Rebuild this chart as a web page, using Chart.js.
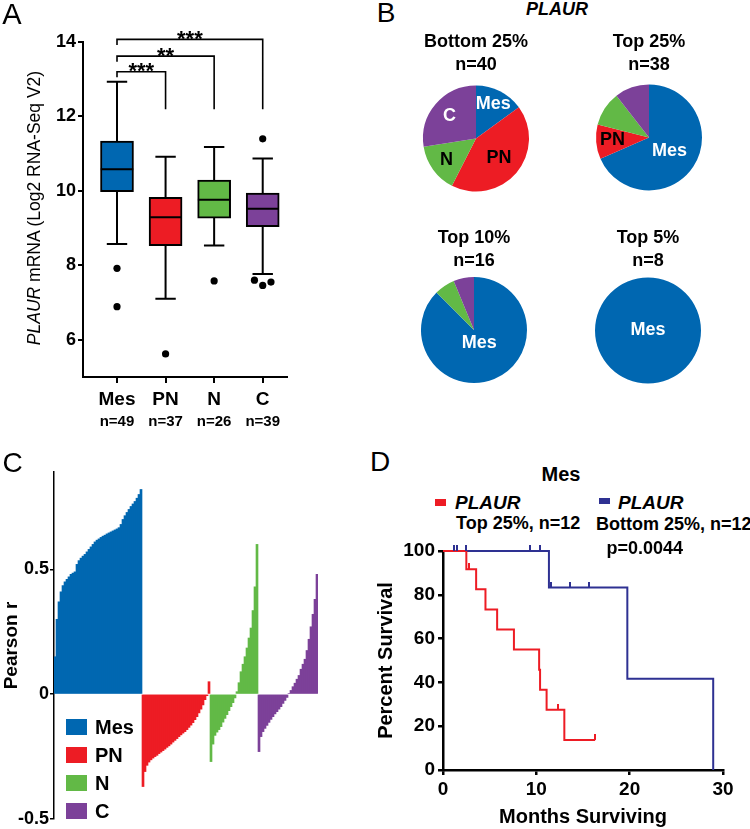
<!DOCTYPE html>
<html><head><meta charset="utf-8">
<script src="https://cdn.jsdelivr.net/npm/chart.js@4.4.1/dist/chart.umd.min.js"></script>
<style>
html,body{margin:0;padding:0;background:#fff;}
body{width:750px;height:829px;position:relative;overflow:hidden;font-family:"Liberation Sans",Arial,sans-serif;color:#000;}
canvas{position:absolute;}
.t{position:absolute;line-height:1;white-space:nowrap;}
.c{transform:translate(-50%,-50%);}
.l{transform:translateY(-50%);}
.b{font-weight:bold;}
.sq{position:absolute;}
</style></head><body>
<canvas id="cA" width="300" height="430" style="left:0;top:0"></canvas>
<canvas id="cP1" width="150" height="170" style="left:401px;top:31px"></canvas>
<canvas id="cP2" width="150" height="168" style="left:574px;top:31px"></canvas>
<canvas id="cP3" width="150" height="161" style="left:399px;top:227px"></canvas>
<canvas id="cP4" width="150" height="162" style="left:573px;top:227px"></canvas>
<canvas id="cC" width="340" height="389" style="left:0;top:440px"></canvas>
<canvas id="cD" width="380" height="289" style="left:370px;top:540px"></canvas>

<div class="t c" style="left:12px;top:14px;font-size:29px">A</div>
<div class="t c" style="left:386px;top:13px;font-size:28px">B</div>
<div class="t c" style="left:12.5px;top:463px;font-size:28px">C</div>
<div class="t c" style="left:380px;top:462px;font-size:28px">D</div>
<div class="t c" style="left:35px;top:208px;font-size:17.5px;transform:translate(-50%,-50%) rotate(-90deg)"><i>PLAUR</i> mRNA (Log2 RNA-Seq V2)</div>
<div class="t c b" style="left:557px;top:9px;font-size:18px;font-style:italic">PLAUR</div>
<div id="legC"></div>
<div class="t c b" style="left:561px;top:474px;font-size:20px">Mes</div>
<div class="sq" style="left:435px;top:499px;width:11px;height:7px;background:#ED1C24"></div>
<div class="t l b" style="left:455px;top:502px;font-size:19px;font-style:italic">PLAUR</div>
<div class="t l b" style="left:456px;top:522.5px;font-size:18px">Top 25%, n=12</div>
<div class="sq" style="left:599px;top:498px;width:11px;height:6px;background:#2E3192"></div>
<div class="t l b" style="left:618px;top:502px;font-size:19px;font-style:italic">PLAUR</div>
<div class="t l b" style="left:596px;top:523.5px;font-size:18px">Bottom 25%, n=12</div>
<div class="t l b" style="left:606.5px;top:547.5px;font-size:18px">p=0.0044</div>

<script>
// ---------- DATA ----------
// Panel A: box plot
const boxCats = ['Mes','PN','N','C'];
const boxN = ['n=49','n=37','n=26','n=39'];
const boxMin = [8.57, 7.10, 8.53, 7.77];
const boxQ1  = [9.98, 8.53, 9.27, 9.04];
const boxMed = [10.58, 9.29, 9.76, 9.52];
const boxQ3  = [11.34, 9.83, 10.29, 9.94];
const boxMax = [12.93, 10.92, 11.18, 10.87];
const outlierX = [1, 1, 2, 3, 4, 3.83, 4, 4.17];
const outlierY = [7.92, 6.89, 5.62, 7.58, 11.40, 7.60, 7.46, 7.55];
const yTicksA = [6, 8, 10, 12, 14];
const sigFrom = [1, 1, 1];
const sigTo = [4, 3, 2];
const sigLevel = [14.07, 13.62, 13.20];
const sigLeftEnd = [13.92, 13.47, 13.05];
const sigRightEnd = [12.19, 12.19, 12.19];
const sigText = ['***', '**', '***'];

// Panel B: pies
const pieGroups = ['Mes','PN','N','C'];
const pieTitles = ['Bottom 25%','Top 25%','Top 10%','Top 5%'];
const pieN = ['n=40','n=38','n=16','n=8'];
const pieBottom25 = [6, 17, 6, 11];
const pieTop25 = [26, 4, 4, 4];
const pieTop10 = [14, 0, 1, 1];
const pieTop5 = [8, 0, 0, 0];

// Panel C: sorted Pearson r
const corrMes = [0.15,0.30,0.37,0.41,0.435,0.45,0.46,0.47,0.48,0.485,0.49,0.52,0.535,0.545,0.553,0.56,0.57,0.58,0.59,0.60,0.61,0.617,0.622,0.628,0.633,0.637,0.642,0.646,0.65,0.654,0.658,0.662,0.667,0.68,0.70,0.715,0.728,0.74,0.752,0.762,0.772,0.785,0.80,0.82];
const corrPN = [-0.37,-0.31,-0.285,-0.272,-0.263,-0.256,-0.25,-0.245,-0.238,-0.232,-0.226,-0.22,-0.213,-0.207,-0.2,-0.192,-0.185,-0.178,-0.17,-0.163,-0.156,-0.15,-0.142,-0.133,-0.124,-0.114,-0.102,-0.09,-0.075,-0.06,-0.043,-0.022,-0.006,0.05];
const corrN = [-0.27,-0.2,-0.165,-0.152,-0.142,-0.13,-0.112,-0.097,-0.082,-0.066,-0.05,-0.034,-0.015,0.01,0.046,0.09,0.12,0.15,0.185,0.225,0.265,0.335,0.43,0.6];
const corrC = [-0.23,-0.17,-0.15,-0.137,-0.125,-0.113,-0.101,-0.09,-0.079,-0.07,-0.06,-0.05,-0.037,-0.025,-0.013,0.003,0.015,0.03,0.044,0.06,0.075,0.1,0.12,0.14,0.175,0.22,0.27,0.32,0.38,0.48];
const cTicks = [-0.5, 0, 0.5];
const cTickLabels = ['-0.5', '0', '0.5'];

// Panel D: Kaplan-Meier
const kmTopT = [0, 2.5, 3.55, 4.55, 5.8, 7.6, 10.3, 10.4, 11.1, 13.0, 16.3];
const kmTopS = [100, 91.7, 82.5, 73.3, 64.2, 55.0, 45.8, 36.7, 27.5, 13.75, 13.75];
const kmTopCensT = [2.8, 12.3, 16.3];
const kmTopCensS = [91.7, 27.5, 13.75];
const kmBotT = [0, 11.35, 19.75, 28.95];
const kmBotS = [100, 83.3, 41.7, 0];
const kmBotCensT = [1.2, 1.55, 2.5, 9.3, 10.4, 11.55, 13.6, 15.65];
const kmBotCensS = [100, 100, 100, 100, 100, 83.3, 83.3, 83.3];
const kmXTicks = [0, 10, 20, 30];
const kmYTicks = [0, 20, 40, 60, 80, 100];

// ---------- STYLE ----------
const groupColors = ['#0067B1', '#ED1C24', '#62B946', '#7C4199'];
const FONT = '"Liberation Sans", Arial, sans-serif';
Chart.defaults.font.family = FONT;
Chart.defaults.color = '#000';
Chart.defaults.animation = false;

function fixY(w){ return s => { s.width = w; s.paddingTop = 0; s.paddingBottom = 0; }; }
function fixX(h){ return s => { s.height = h; s.paddingLeft = 0; s.paddingRight = 0; }; }
const noPlug = {legend:{display:false}, tooltip:{enabled:false}};

// ---------- PANEL A ----------
const boxSegs = [];
function seg(arr, x1, y1, x2, y2){ arr.push({x:x1,y:y1},{x:x2,y:y2},{x:x2,y:null}); }
boxCats.forEach((c,i) => {
  const x = i + 1, cap = 0.21, half = 0.335;
  seg(boxSegs, x, boxQ3[i], x, boxMax[i]);
  seg(boxSegs, x-cap, boxMax[i], x+cap, boxMax[i]);
  seg(boxSegs, x, boxQ1[i], x, boxMin[i]);
  seg(boxSegs, x-cap, boxMin[i], x+cap, boxMin[i]);
  seg(boxSegs, x-half, boxMed[i], x+half, boxMed[i]);
});
const brSegs = [];
sigFrom.forEach((f,i) => {
  brSegs.push({x:f,y:sigLeftEnd[i]},{x:f,y:sigLevel[i]},{x:sigTo[i],y:sigLevel[i]},{x:sigTo[i],y:sigRightEnd[i]},{x:sigTo[i],y:null});
});
const starPlugin = {
  id:'stars',
  afterDatasetsDraw(chart){
    const xs = chart.scales.x, ys = chart.scales.y, ctx = chart.ctx;
    ctx.save();
    ctx.font = 'bold 22px ' + FONT; ctx.fillStyle = '#000';
    ctx.textAlign = 'center'; ctx.textBaseline = 'alphabetic';
    sigText.forEach((t,i) => {
      const x = (xs.getPixelForValue(sigFrom[i]) + xs.getPixelForValue(sigTo[i])) / 2;
      ctx.fillText(t, x, ys.getPixelForValue(sigLevel[i]) + 6.5);
    });
    ctx.restore();
  }
};
const catTicks = s => { s.ticks = boxCats.map((c,i) => ({value:i+1})); };
new Chart(document.getElementById('cA'), {
  type:'bar',
  data:{datasets:[
    {type:'scatter', data:outlierX.map((x,i)=>({x, y:outlierY[i]})), pointRadius:3.6, backgroundColor:'#000', borderWidth:0, order:0},
    {type:'line', data:boxSegs, borderColor:'#000', borderWidth:2, pointRadius:0, spanGaps:false, order:1},
    {type:'line', data:brSegs, borderColor:'#000', borderWidth:1.6, pointRadius:0, spanGaps:false, clip:false, order:1},
    {type:'bar', data:boxCats.map((c,i)=>({x:i+1, y:[boxQ1[i], boxQ3[i]]})), backgroundColor:groupColors, borderColor:'#000', borderWidth:2, borderSkipped:false, barThickness:33, order:3}
  ]},
  options:{
    responsive:false, animation:false,
    layout:{padding:{top:42, right:13, left:0, bottom:0}},
    plugins:noPlug,
    scales:{
      y:{type:'linear', min:5, max:14, afterBuildTicks:s=>{s.ticks = yTicksA.map(v=>({value:v}));}, afterFit:fixY(83),
         border:{color:'#000', width:2}, grid:{drawOnChartArea:false, color:'#000', lineWidth:2, tickLength:5},
         ticks:{font:{size:18, weight:'bold'}, color:'#000', padding:2}},
      x:{type:'linear', offset:false, min:0.3, max:4.5, afterBuildTicks:catTicks, afterFit:fixX(36),
         border:{color:'#000', width:2}, grid:{offset:false, drawOnChartArea:false, color:'#000', lineWidth:2, tickLength:6},
         ticks:{callback:v=>boxCats[Math.round(v)-1], font:{size:19, weight:'bold'}, color:'#000', padding:5, autoSkip:false, maxRotation:0}},
      xn:{type:'linear', offset:false, position:'bottom', min:0.3, max:4.5, afterBuildTicks:catTicks, afterFit:fixX(17),
         border:{display:false}, grid:{offset:false, display:false, drawTicks:false},
         ticks:{callback:v=>boxN[Math.round(v)-1], font:{size:15, weight:'bold'}, color:'#000', padding:0, autoSkip:false, maxRotation:0}}
    }
  },
  plugins:[starPlugin]
});

// ---------- PANEL B ----------
const pieLabelPlugin = {
  id:'pieLabels',
  afterDatasetsDraw(chart, args, opts){
    const ctx = chart.ctx, meta = chart.getDatasetMeta(0);
    ctx.save();
    ctx.font = 'bold 18px ' + FONT; ctx.textAlign = 'center'; ctx.textBaseline = 'middle';
    (opts.items || []).forEach(it => {
      const arc = meta.data[it.i];
      const p = arc.getProps(['x','y','startAngle','endAngle','outerRadius']);
      const a = (p.startAngle + p.endAngle) / 2;
      const r = p.outerRadius * it.r;
      ctx.fillStyle = it.color;
      ctx.fillText(pieGroups[it.i], p.x + Math.cos(a)*r, p.y + Math.sin(a)*r);
    });
    ctx.restore();
  }
};
function makePie(id, counts, k, items){
  new Chart(document.getElementById(id), {
    type:'pie',
    data:{labels:pieGroups, datasets:[{data:counts, backgroundColor:groupColors, borderWidth:0, radius:53}]},
    options:{responsive:false, animation:false,
      plugins:{legend:{display:false}, tooltip:{enabled:false},
        title:{display:true, text:[pieTitles[k], pieN[k]], font:{size:18, weight:'bold', lineHeight:1.25}, color:'#000', padding:0},
        pieLabels:{items}}},
    plugins:[pieLabelPlugin]
  });
}
makePie('cP1', pieBottom25, 0, [{i:0,r:0.72,color:'#fff'},{i:1,r:0.57,color:'#000'},{i:2,r:0.69,color:'#000'},{i:3,r:0.66,color:'#fff'}]);
makePie('cP2', pieTop25, 1, [{i:0,r:0.46,color:'#fff'},{i:1,r:0.69,color:'#000'}]);
makePie('cP3', pieTop10, 2, [{i:0,r:0.26,color:'#fff'}]);
makePie('cP4', pieTop5, 3, [{i:0,r:0,color:'#fff'}]);

// ---------- PANEL C ----------
const allCorr = [corrMes, corrPN, corrN, corrC];
const totalBars = allCorr.reduce((s,a)=>s+a.length, 0);
const cLabels = Array.from({length:totalBars}, (_,i)=>String(i));
let offs = 0;
const cDatasets = allCorr.map((arr, g) => {
  const d = new Array(totalBars).fill(null);
  arr.forEach((v,j) => { d[offs + j] = v; });
  offs += arr.length;
  return {label:pieGroups[g], data:d, backgroundColor:groupColors[g], borderWidth:0, grouped:false, barPercentage:1, categoryPercentage:1};
});
new Chart(document.getElementById('cC'), {
  type:'bar',
  data:{labels:cLabels, datasets:cDatasets},
  options:{responsive:false, animation:false,
    layout:{padding:{top:32, right:22, left:0, bottom:10}},
    plugins:noPlug,
    scales:{
      x:{display:false},
      y:{min:-0.5, max:0.89, afterBuildTicks:s=>{s.ticks = cTicks.map(v=>({value:v}));}, afterFit:fixY(54),
         border:{color:'#000', width:1.5}, grid:{drawOnChartArea:false, color:'#000', lineWidth:1.5, tickLength:4},
         ticks:{callback:(v,i)=>cTickLabels[i], font:{size:18, weight:'bold'}, color:'#000', padding:1},
         title:{display:true, text:'Pearson r', font:{size:19, weight:'bold'}, color:'#000', padding:0}}
    }
  }
});
// legend for C
(function(){
  const leg = document.getElementById('legC');
  pieGroups.forEach((g,i) => {
    const y = 727.3 + i*28;
    const sq = document.createElement('div'); sq.className = 'sq';
    sq.style.cssText = `left:66px;top:${y-8}px;width:21px;height:16px;background:${groupColors[i]}`;
    const tx = document.createElement('div'); tx.className = 't l b';
    tx.style.cssText = `left:95px;top:${y}px;font-size:20px`; tx.textContent = g;
    leg.appendChild(sq); leg.appendChild(tx);
  });
})();

// ---------- PANEL D ----------
function tickImg(color){
  const c = document.createElement('canvas'); c.width = 2; c.height = 12;
  const x = c.getContext('2d'); x.fillStyle = color; x.fillRect(0,0,2,6); return c;
}
const RED = '#ED1C24', BLUE = '#2E3192';
new Chart(document.getElementById('cD'), {
  type:'scatter',
  data:{datasets:[
    {type:'scatter', data:kmTopCensT.map((t,i)=>({x:t,y:kmTopCensS[i]})), pointStyle:tickImg(RED), pointRadius:3, clip:false, order:0},
    {type:'scatter', data:kmBotCensT.map((t,i)=>({x:t,y:kmBotCensS[i]})), pointStyle:tickImg(BLUE), pointRadius:3, clip:false, order:0},
    {type:'line', data:kmTopT.map((t,i)=>({x:t,y:kmTopS[i]})), stepped:'before', borderColor:RED, borderWidth:2, pointRadius:0, clip:false, order:1},
    {type:'line', data:kmBotT.map((t,i)=>({x:t,y:kmBotS[i]})), stepped:'before', borderColor:BLUE, borderWidth:2, pointRadius:0, clip:false, order:2}
  ]},
  options:{responsive:false, animation:false,
    layout:{padding:{top:11, right:27, left:0, bottom:0}},
    plugins:noPlug,
    scales:{
      x:{type:'linear', min:0, max:30, afterBuildTicks:s=>{s.ticks = kmXTicks.map(v=>({value:v}));}, afterFit:fixX(59),
         border:{color:'#000', width:2.5}, grid:{drawOnChartArea:false, color:'#000', lineWidth:2.5, tickLength:5},
         ticks:{font:{size:19, weight:'bold'}, color:'#000', padding:3, maxRotation:0},
         title:{display:true, text:'Months Surviving', font:{size:20, weight:'bold'}, color:'#000', padding:0}},
      y:{type:'linear', min:0, max:100, afterBuildTicks:s=>{s.ticks = kmYTicks.map(v=>({value:v}));}, afterFit:fixY(73),
         border:{color:'#000', width:2.5}, grid:{drawOnChartArea:false, color:'#000', lineWidth:2.5, tickLength:5},
         ticks:{font:{size:19, weight:'bold'}, color:'#000', padding:3},
         title:{display:true, text:'Percent Survival', font:{size:20, weight:'bold'}, color:'#000', padding:{top:4, bottom:0}}}
    }
  }
});
</script>
</body></html>
